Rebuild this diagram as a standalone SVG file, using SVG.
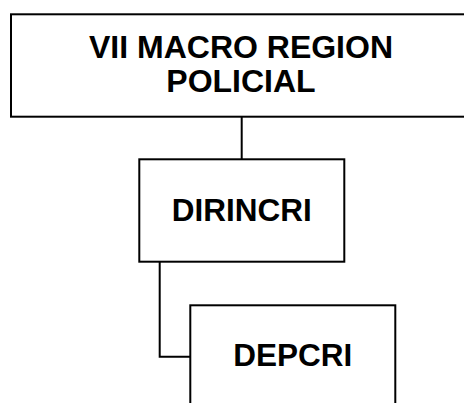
<svg xmlns="http://www.w3.org/2000/svg" width="464" height="403" viewBox="0 0 464 403">
<style>
.box{fill:#fff;stroke:#000;stroke-width:2}
.lbl{font-family:"Liberation Sans",Arial,sans-serif;font-weight:bold;fill:#000;text-anchor:middle}
.conn{fill:none;stroke:#000;stroke-width:2}
</style>
<rect width="464" height="403" fill="#fff"/>
<g id="connectors">
<path class="conn" d="M241.7,116.7 V159.3"/>
<path class="conn" d="M159.7,261.7 V356.7 H190.3"/>
</g>
<g id="node-macro">
<rect class="box" x="11" y="14.3" width="462" height="102.4"/>
<text class="lbl" x="241" y="58.3" font-size="32">VII MACRO REGION</text>
<text class="lbl" x="241" y="91.7" font-size="32">POLICIAL</text>
</g>
<g id="node-dirincri">
<rect class="box" x="139.3" y="159.3" width="205" height="102.4"/>
<text class="lbl" x="241.8" y="220.7" font-size="31.5">DIRINCRI</text>
</g>
<g id="node-depcri">
<rect class="box" x="190.3" y="305.3" width="205" height="110"/>
<text class="lbl" x="292.8" y="365.7" font-size="31.5">DEPCRI</text>
</g>
</svg>
